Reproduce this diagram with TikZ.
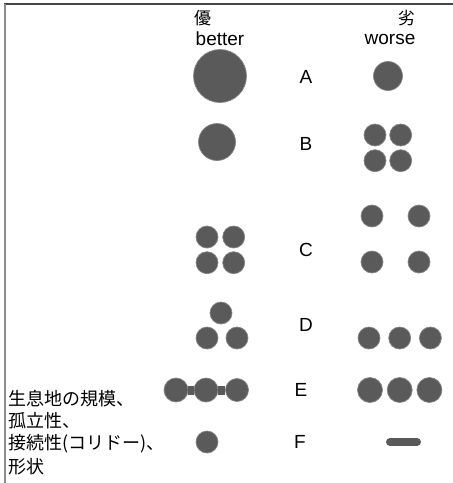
\documentclass[tikz,border=0pt]{standalone}
\usepackage{fontspec}
\setmainfont{Liberation Sans}
\newfontfamily\jp{Noto Sans CJK JP}
\usetikzlibrary{positioning}
\definecolor{Dot}{HTML}{5A5A5A}
\definecolor{DotRim}{HTML}{858585}
\definecolor{Frame}{HTML}{454545}
\definecolor{FrameSide}{HTML}{8C8C8C}
\tikzset{
  dot/.style={
    circle, fill=Dot, draw=DotRim, line width=0.7pt,
    inner sep=0pt, minimum size=22pt
  },
  bigdot/.style={dot, minimum size=53pt},
  middot/.style={dot, minimum size=37pt},
  smalldot/.style={dot, minimum size=29pt},
  edot/.style={dot, minimum size=25pt},
  row/.style={font=\fontsize{19}{21}\selectfont, inner sep=0pt},
  head/.style={font=\fontsize{19}{21}\selectfont, inner sep=0pt},
  headjp/.style={font=\jp\fontsize{17}{20}\selectfont, inner sep=0pt},
  note/.style={font=\jp\fontsize{18}{20}\selectfont, inner sep=0pt, anchor=west},
  bar/.style={draw=Dot, line width=9pt},
  frame/.style={draw=Frame, line width=1.5pt}
}

\begin{document}
\begin{tikzpicture}[x=1pt,y=-1pt,node distance=3pt and 3pt]
  \useasboundingbox (0,0) rectangle (453,483);
  \draw[frame] (4,4) -- (453,4);
  \draw[frame,draw=FrameSide,line width=2pt] (4.5,4) -- (4.5,483);

  % headings
  \node[headjp,anchor=west] (hy) at (194,18) {優};
  \node[head] (hb) at (220,39) {better};
  \node[headjp,anchor=east] (hr) at (415,18) {劣};
  \node[head] (hw) at (390,39) {worse};

  % A
  \node[bigdot] (a1) at (220,76) {};
  \node[row] (la) at (306,77) {A};
  \node[smalldot] (a2) at (388,76) {};

  % B
  \node[middot] (b1) at (217,142) {};
  \node[row] (lb) at (306,144) {B};
  \node[dot] (b2) at (375,135) {};
  \node[dot,right=of b2] (b3) {};
  \node[dot,below=of b2] (b4) {};
  \node[dot,right=of b4] (b5) {};

  % C
  \node[dot] (c1) at (207,237) {};
  \node[dot,right=4pt of c1] (c2) {};
  \node[dot,below=of c1] (c3) {};
  \node[dot,right=4pt of c3] (c4) {};
  \node[row] (lc) at (306,250) {C};
  \node[dot] (c5) at (372,216) {};
  \node[dot] (c6) at (419,216) {};
  \node[dot] (c7) at (372,262) {};
  \node[dot] (c8) at (419,262) {};

  % D
  \node[dot] (d1) at (221,313) {};
  \node[dot] (d2) at (207,338) {};
  \node[dot] (d3) at (237,338) {};
  \node[row] (ld) at (306,325) {D};
  \node[dot] (d4) at (369,338) {};
  \node[dot,right=8pt of d4] (d5) {};
  \node[dot,right=8pt of d5] (d6) {};

  % E
  \node[dot,minimum size=24pt] (e1) at (176,390) {};
  \node[dot,minimum size=24pt] (e2) at (206,390) {};
  \node[dot,minimum size=23pt] (e3) at (237,390) {};
  \draw[bar] (e1) -- (e2);
  \draw[bar] (e2) -- (e3);
  \node[row] (le) at (301,390) {E};
  \node[edot] (e4) at (370,390) {};
  \node[edot,right=4pt of e4] (e5) {};
  \node[edot,right=4pt of e5] (e6) {};

  % F
  \node[dot] (f1) at (207,442) {};
  \node[row] (lf) at (300,442) {F};
  \draw[bar,line width=8pt,line cap=round] (390,442) -- (417,442);

  % left note
  \node[note] (n1) at (8,399) {生息地の規模、};
  \node[note] (n2) at (8,421) {孤立性、};
  \node[note] (n3) at (8,444) {接続性(コリドー)、};
  \node[note] (n4) at (8,467) {形状};
\end{tikzpicture}
\end{document}
